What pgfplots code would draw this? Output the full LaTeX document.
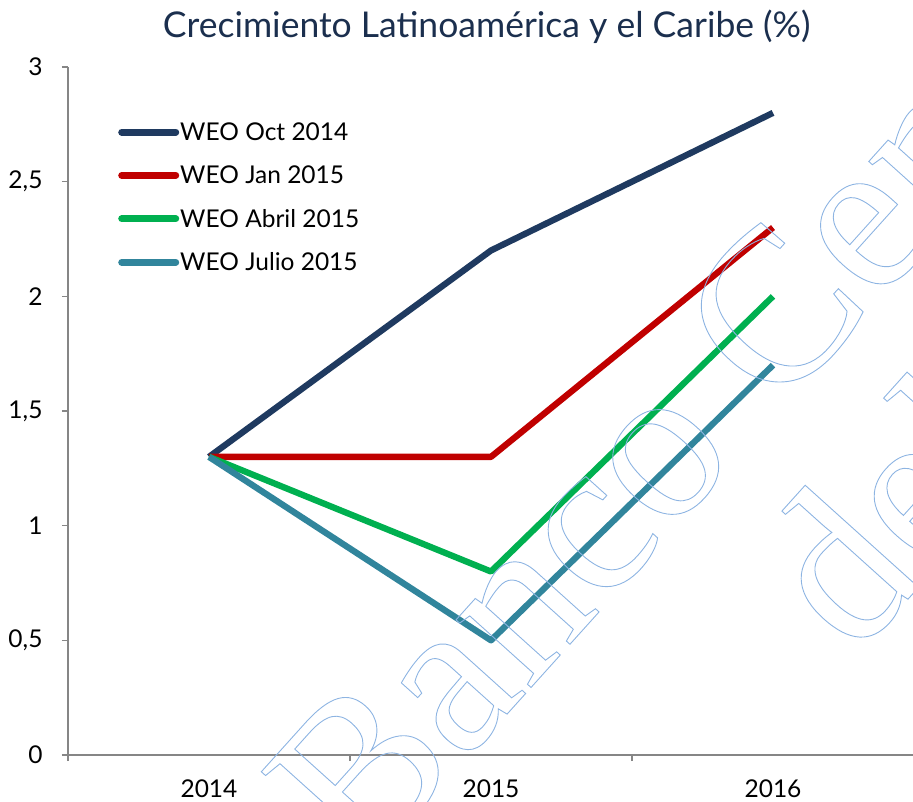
\documentclass[border=0pt]{standalone}
\usepackage{fontspec}
\setmainfont{Lato}
\newfontfamily\wmfont{Liberation Serif}
\usepackage{pgfplots}
\pgfplotsset{compat=1.18}
\definecolor{navy}{HTML}{1F3A60}
\definecolor{titlec}{HTML}{1B2F4E}
\definecolor{wred}{HTML}{C00000}
\definecolor{wgreen}{HTML}{00B050}
\definecolor{wteal}{HTML}{31859C}
\definecolor{axgray}{HTML}{868686}
\definecolor{wm}{HTML}{8DB4E2}
\newcommand\outlinetext[1]{\special{pdf:code 1 Tr 0.9 w}#1\special{pdf:code 0 Tr}}
\begin{document}
\begin{tikzpicture}
\begin{axis}[
  scale only axis,
  width=846pt, height=688pt,
  xmin=-0.5, xmax=2.5, ymin=0, ymax=3,
  axis x line*=bottom, axis y line*=left,
  axis line style={draw=axgray, line width=1.6pt},
  xtick={-0.5,0.5,1.5,2.5}, xticklabels={},
  extra x ticks={0,1,2}, extra x tick labels={2014,2015,2016},
  extra x tick style={major tick length=0pt, xticklabel style={yshift=-21pt}},
  ytick={0,0.5,1,1.5,2,2.5,3},
  yticklabels={0,{0,5},1,{1,5},2,{2,5},3},
  yticklabel style={xshift=-16pt},
  tick align=outside, major tick length=6pt,
  tick style={draw=axgray, line width=1.2pt},
  ticklabel style={font=\fontsize{24.5}{28}\selectfont, text=black},
  title={Crecimiento Latinoamérica y el Caribe (\%)},
  title style={at={(0.495,1.050)}, anchor=center, font=\fontsize{35.5}{40}\selectfont, text=titlec},
  legend style={draw=none, fill=none, at={(0.0556,0.924)}, anchor=north west,
    font=\fontsize{24.5}{28}\selectfont, row sep=22pt,
    nodes={inner sep=1pt, anchor=west}},
  legend cell align=left,
  legend image code/.code={\draw[#1, line cap=round, line width=7pt] (0pt,0pt) -- (54pt,0pt);},
  every axis plot/.append style={line width=6.3pt, line join=round},
  clip=false,
]
\addplot[navy] coordinates {(0,1.3) (1,2.2) (2,2.8)};
\addlegendentry{WEO Oct 2014}
\addplot[wred] coordinates {(0,1.3) (1,1.3) (2,2.3)};
\addlegendentry{WEO Jan 2015}
\addplot[wgreen] coordinates {(0,1.3) (1,0.8) (2,2.0)};
\addlegendentry{WEO Abril 2015}
\addplot[wteal] coordinates {(0,1.3) (1,0.5) (2,1.7)};
\addlegendentry{WEO Julio 2015}
\end{axis}
\node[anchor=base west, inner sep=0pt, rotate=48, text=wm,
  font=\wmfont\fontsize{220}{220}\selectfont] at (296pt,-118pt) {\outlinetext{Banco Central de Reserva}};
\node[anchor=base west, inner sep=0pt, rotate=48, text=wm,
  font=\wmfont\fontsize{220}{220}\selectfont] at (787pt,97pt) {\outlinetext{del Perú}};
\pgfresetboundingbox
\path (-68pt,-46pt) rectangle (845pt,755pt);
\end{tikzpicture}
\end{document}
